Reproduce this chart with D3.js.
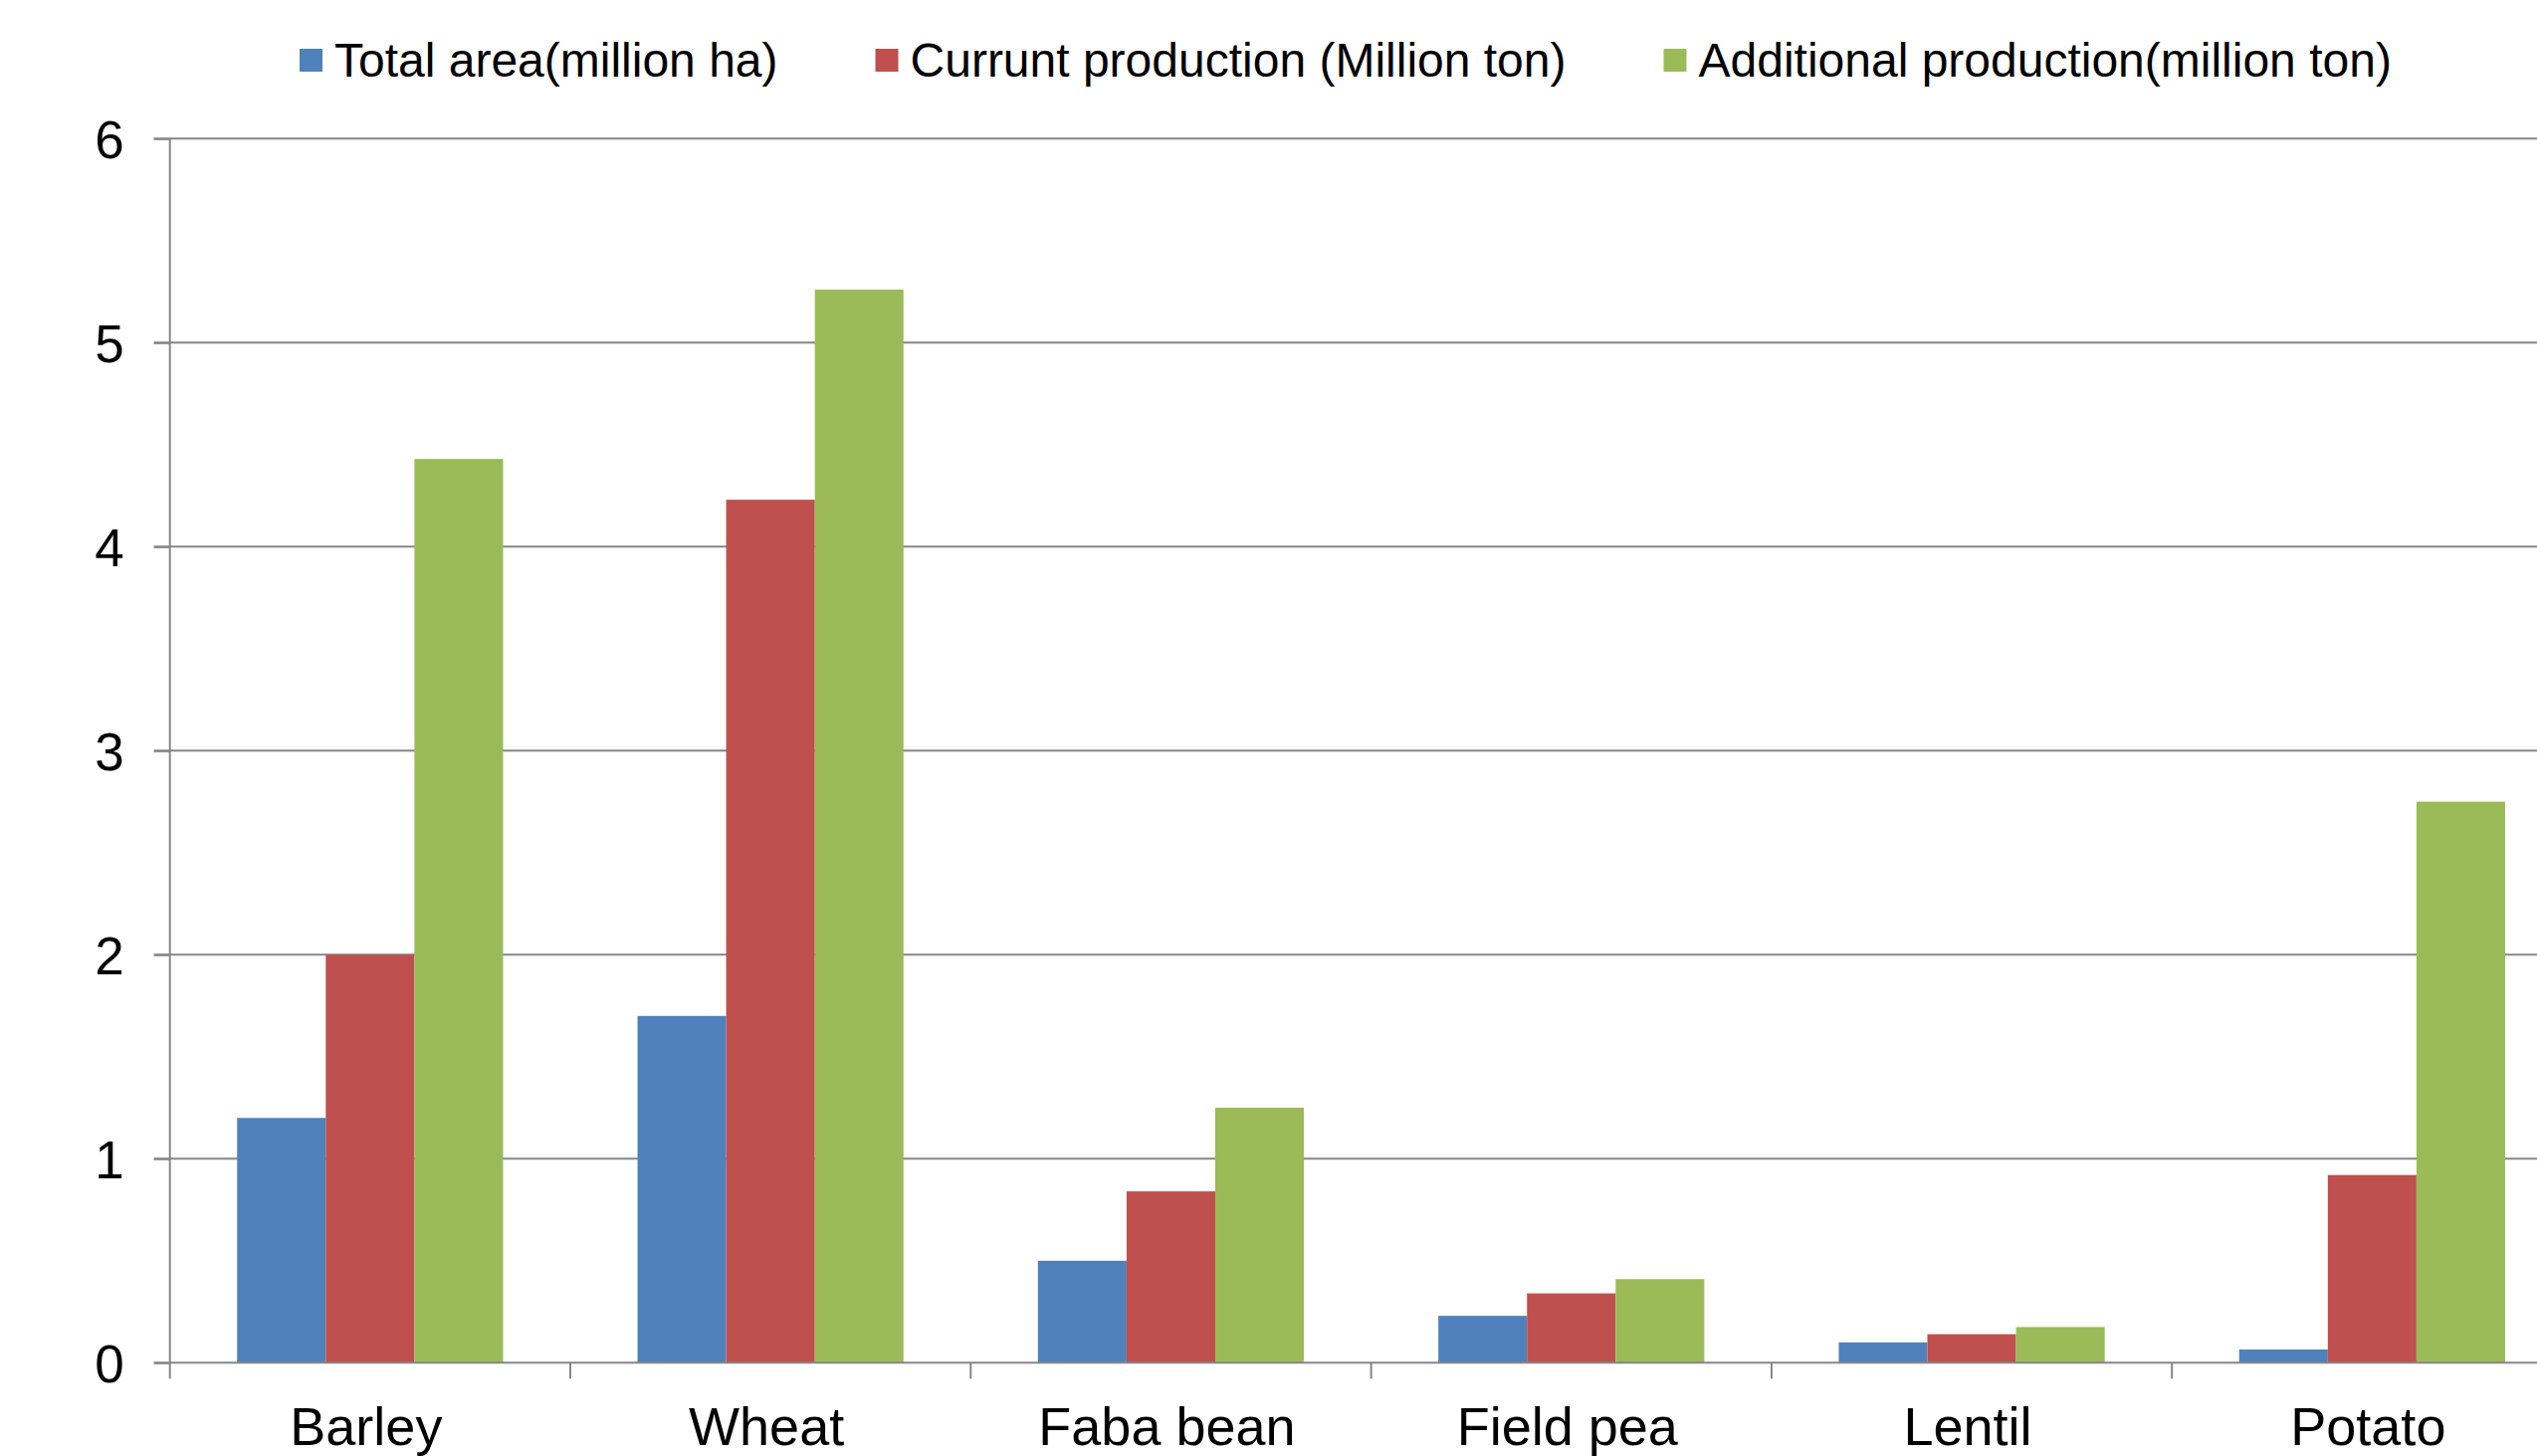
<!DOCTYPE html>
<html><head><meta charset="utf-8">
<script src="https://cdn.jsdelivr.net/npm/d3@7/dist/d3.min.js"></script>
<style>html,body{margin:0;padding:0;background:#fff;overflow:hidden}</style>
</head><body>
<script>
const categories = ["Barley","Wheat","Faba bean","Field pea","Lentil","Potato"];
const seriesNames = ["Total area(million ha)","Currunt production (Million ton)","Additional production(million ton)"];
const totalArea = [1.2, 1.7, 0.5, 0.23, 0.1, 0.065];
const currentProduction = [2.0, 4.23, 0.84, 0.34, 0.14, 0.92];
const additionalProduction = [4.43, 5.26, 1.25, 0.41, 0.175, 2.75];
const yTicks = [0,1,2,3,4,5,6];
const colors = ["#4F81BD","#C0504D","#9BBB59"];

(function(){
const W = 2549, H = 1463;
const plotLeft = 170.7, bandW = 402.3, plotTop = 139.3, plotBottom = 1369.3;
const font = "'Liberation Sans', Arial, sans-serif";
const svg = d3.select("body").append("svg").attr("width", W).attr("height", H).style("display","block");

const x = d3.scaleBand().domain(categories).range([plotLeft, plotLeft + bandW*categories.length]).paddingInner(0).paddingOuter(0);
const y = d3.scaleLinear().domain([0,6]).range([plotBottom, plotTop]);
const inner = d3.scaleBand().domain([0,1,2]).range([0, bandW]).paddingInner(0).paddingOuter(0.7582);

const grid = "#868686";
svg.append("g").selectAll("line").data(yTicks.filter(d=>d>0)).join("line")
  .attr("x1", plotLeft-16).attr("x2", W).attr("y1", d=>y(d)).attr("y2", d=>y(d))
  .attr("stroke", grid).attr("stroke-width", 2);

const seriesVals = [totalArea, currentProduction, additionalProduction];
seriesVals.forEach((vals, si) => {
  svg.append("g").selectAll("rect").data(vals).join("rect")
    .attr("x", (d,i) => x(categories[i]) + inner(si))
    .attr("width", inner.bandwidth())
    .attr("y", d => y(d))
    .attr("height", d => y(0) - y(d))
    .attr("fill", colors[si]);
});

const yAxis = d3.axisLeft(y).tickValues(yTicks).tickSize(16).tickPadding(30).tickFormat(d3.format("d"));
const ya = svg.append("g").attr("transform", `translate(${plotLeft},0)`).call(yAxis);
ya.select(".domain").attr("stroke", grid).attr("stroke-width", 2).attr("d", `M0,${plotTop}V${plotBottom}`);
ya.selectAll(".tick line").attr("stroke", grid).attr("stroke-width", 2);
ya.selectAll(".tick text").attr("font-family", font).attr("font-size", 53).attr("fill", "#000").attr("dy", "0.36em");

const xAxis = d3.axisBottom(x).tickSize(0).tickPadding(0);
const xa = svg.append("g").attr("transform", `translate(0,${plotBottom})`).call(xAxis);
xa.select(".domain").attr("stroke", grid).attr("stroke-width", 2).attr("d", `M${plotLeft-16},0H${W+10}`);
xa.selectAll(".tick text").attr("font-family", font).attr("font-size", 54).attr("fill", "#000").attr("y", 83).attr("dy", 0).attr("dx", -4);
const bounds = d3.range(categories.length+1).map(i => plotLeft + i*bandW);
svg.append("g").selectAll("line").data(bounds).join("line")
  .attr("x1", d=>d).attr("x2", d=>d).attr("y1", plotBottom).attr("y2", plotBottom+16)
  .attr("stroke", grid).attr("stroke-width", 2);

const lg = svg.append("g");
let lx = 301;
seriesNames.forEach((name, i) => {
  lg.append("rect").attr("x", lx).attr("y", 49).attr("width", 23).attr("height", 23).attr("fill", colors[i]);
  const t = lg.append("text").attr("x", lx + 35).attr("y", 60).attr("dy", "0.36em")
    .attr("font-family", font).attr("font-size", 48).attr("fill", "#000").text(name);
  lx += 35 + t.node().getComputedTextLength() + 98;
});
})();
</script>
</body></html>
